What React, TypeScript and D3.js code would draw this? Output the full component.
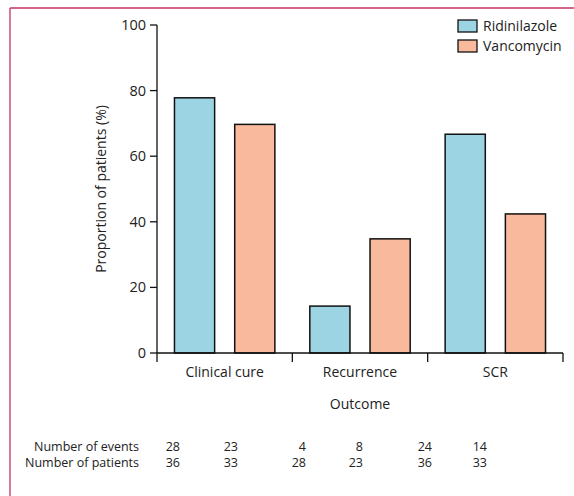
import * as d3 from 'd3';

const outcomes = ['Clinical cure', 'Recurrence', 'SCR'];
const drugs = ['Ridinilazole', 'Vancomycin'];
const ridinilazole = [77.8, 14.3, 66.7];
const vancomycin = [69.7, 34.8, 42.4];
const yTicks = [0, 20, 40, 60, 80, 100];
const events = [28, 23, 4, 8, 24, 14];
const patients = [36, 33, 28, 23, 36, 33];

const colors = ['#9dd4e4', '#f9b99d'];
const frame = '#c4345c';
const font = '"Open Sans", sans-serif';

const W = 574;
const H = 496;
const left = 157;
const right = 563;
const top = 25;
const bottom = 353;
// right edges of the table's number columns
const tableColX = [180, 238, 306, 363, 432, 487];

export default function App(): React.ReactNode {
  const x = d3.scaleBand<string>().domain(outcomes).range([left, right]);
  const inner = d3
    .scaleBand<string>()
    .domain(drugs)
    .range([0, x.bandwidth()])
    .paddingInner(1 / 3)
    .paddingOuter(0.29);
  const y = d3.scaleLinear().domain([0, 100]).range([bottom, top]);
  const series = [ridinilazole, vancomycin];

  return (
    <svg
      width={W}
      height={H}
      style={{ position: 'absolute', left: 0, top: 0, fontFamily: font }}
    >
      <line x1={10} x2={W} y1={8} y2={8} stroke={frame} strokeWidth={1.3} />
      <line x1={10} x2={10} y1={8} y2={H} stroke={frame} strokeWidth={1.3} />

      {outcomes.map((o, i) =>
        drugs.map((d, j) => (
          <rect
            key={o + d}
            x={(x(o) ?? 0) + (inner(d) ?? 0)}
            y={y(series[j][i])}
            width={inner.bandwidth()}
            height={bottom - y(series[j][i])}
            fill={colors[j]}
            stroke="#111"
            strokeWidth={1.5}
          />
        )),
      )}

      {/* y axis */}
      <line x1={left} x2={left} y1={top} y2={bottom} stroke="#111" strokeWidth={1.3} />
      {yTicks.map((t) => (
        <g key={t}>
          <line x1={left - 7} x2={left} y1={y(t)} y2={y(t)} stroke="#111" strokeWidth={1.3} />
          <text
            x={left - 11}
            y={y(t)}
            dy="0.35em"
            textAnchor="end"
            fontSize={14.5}
            fill="#222"
          >
            {t}
          </text>
        </g>
      ))}
      <text
        transform={`translate(101,${(top + bottom) / 2}) rotate(-90)`}
        textAnchor="middle"
        dy="0.35em"
        fontSize={14}
        fill="#222"
      >
        Proportion of patients (%)
      </text>

      {/* x axis */}
      <line x1={left} x2={right} y1={bottom} y2={bottom} stroke="#111" strokeWidth={1.3} />
      {[...outcomes.map((o) => x(o) ?? 0), right].map((v, i) => (
        <line key={i} x1={v} x2={v} y1={bottom} y2={bottom + 9} stroke="#111" strokeWidth={1.3} />
      ))}
      {outcomes.map((o) => (
        <text
          key={o}
          x={(x(o) ?? 0) + x.bandwidth() / 2}
          y={bottom + 24}
          textAnchor="middle"
          fontSize={14}
          fill="#222"
        >
          {o}
        </text>
      ))}
      <text x={(left + right) / 2} y={bottom + 56} textAnchor="middle" fontSize={14} fill="#222">
        Outcome
      </text>

      {/* legend */}
      {drugs.map((d, j) => (
        <g key={d} transform={`translate(458,${20 + j * 20})`}>
          <rect width={19} height={12} fill={colors[j]} stroke="#111" strokeWidth={1.3} />
          <text x={25} y={6} dy="0.35em" fontSize={14} fill="#222">
            {d}
          </text>
        </g>
      ))}

      {/* table */}
      {[
        ['Number of events', events],
        ['Number of patients', patients],
      ].map(([label, vals], r) => (
        <g key={label as string} transform={`translate(0,${447 + r * 16})`}>
          <text x={139} dy="0.35em" textAnchor="end" fontSize={12.5} fill="#222">
            {label as string}
          </text>
          {(vals as number[]).map((v, i) => (
            <text key={i} x={tableColX[i]} dy="0.35em" textAnchor="end" fontSize={12.5} fill="#222">
              {v}
            </text>
          ))}
        </g>
      ))}
    </svg>
  );
}
